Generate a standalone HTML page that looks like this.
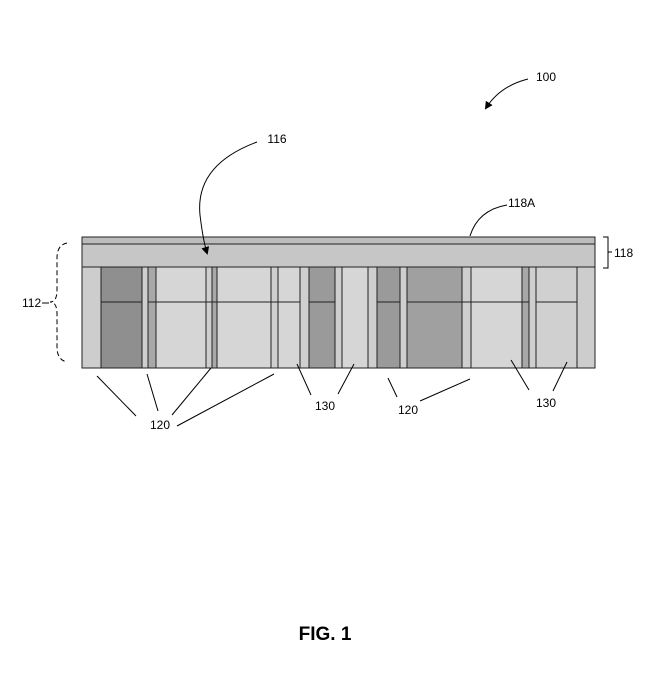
<!DOCTYPE html>
<html><head><meta charset="utf-8"><style>
html,body{margin:0;padding:0;background:#fff;}
svg{display:block;}
text{font-family:"Liberation Sans",Arial,sans-serif;font-size:12px;fill:#000;}
</style></head><body>
<svg width="648" height="699" viewBox="0 0 648 699" xmlns="http://www.w3.org/2000/svg">
<defs>
<marker id="ah" markerWidth="8" markerHeight="8" refX="6" refY="4" orient="auto" markerUnits="userSpaceOnUse">
<path d="M0,0 L8,4 L0,8 Z" fill="#000"/></marker>
</defs>
<g stroke="#222" stroke-width="1">
<!-- body background -->
<rect x="82" y="267" width="513" height="101" fill="#cdcdcd"/>
<!-- cells -->
<rect x="101" y="267" width="41" height="101" fill="#8f8f8f"/>
<rect x="148" y="267" width="8" height="101" fill="#a8a8a8"/>
<rect x="156" y="267" width="50" height="101" fill="#d6d6d6"/>
<rect x="212" y="267" width="5" height="101" fill="#a8a8a8"/>
<rect x="217" y="267" width="54" height="101" fill="#d6d6d6"/>
<rect x="278" y="267" width="22" height="101" fill="#d6d6d6"/>
<rect x="309" y="267" width="26" height="101" fill="#9a9a9a"/>
<rect x="342" y="267" width="26" height="101" fill="#d6d6d6"/>
<rect x="377" y="267" width="23" height="101" fill="#9a9a9a"/>
<rect x="407" y="267" width="55" height="101" fill="#a0a0a0"/>
<rect x="471" y="267" width="51" height="101" fill="#d6d6d6"/>
<rect x="522" y="267" width="7" height="101" fill="#a8a8a8"/>
<rect x="536" y="267" width="41" height="101" fill="#d0d0d0"/>
<!-- pillars -->
<rect x="142" y="267" width="6" height="101" fill="#cfcfcf"/>
<rect x="206" y="267" width="6" height="101" fill="#cfcfcf"/>
<rect x="271" y="267" width="7" height="101" fill="#cfcfcf"/>
<rect x="300" y="267" width="9" height="101" fill="#cfcfcf"/>
<rect x="335" y="267" width="7" height="101" fill="#cfcfcf"/>
<rect x="368" y="267" width="9" height="101" fill="#cfcfcf"/>
<rect x="400" y="267" width="7" height="101" fill="#cfcfcf"/>
<rect x="462" y="267" width="9" height="101" fill="#cfcfcf"/>
<rect x="529" y="267" width="7" height="101" fill="#cfcfcf"/>
<!-- mid horizontal lines -->
<line x1="101" y1="302" x2="142" y2="302"/>
<line x1="148" y1="302" x2="300" y2="302"/>
<line x1="309" y1="302" x2="335" y2="302"/>
<line x1="377" y1="302" x2="400" y2="302"/>
<line x1="407" y1="302" x2="529" y2="302"/>
<line x1="536" y1="302" x2="577" y2="302"/>
<!-- top layers -->
<rect x="82" y="244" width="513" height="23" fill="#c6c6c6"/>
<rect x="82" y="237" width="513" height="7" fill="#bcbcbc"/>
<rect x="82" y="237" width="513" height="131" fill="none"/>
</g>
<g stroke="#000" stroke-width="1" fill="none">
<!-- 100 arrow -->
<path d="M528,79 Q500,86 486,108" marker-end="url(#ah)"/>
<!-- 116 arrow -->
<path d="M257,142 Q195,165 200,215 Q203,240 207,253" marker-end="url(#ah)"/>
<!-- 118A -->
<path d="M507,205 Q478,210 470,236"/>
<!-- 118 brace -->
<path d="M603,237 L608,237 L608,268 L603,268 M608,252 L612,252"/>
<!-- 112 dashed brace -->
<path d="M67,243 Q57,245 57,258 L57,290 Q57,302 50,302 Q57,302 57,314 L57,347 Q57,360 67,362" stroke-dasharray="5,3"/>
<!-- 120 leaders -->
<line x1="97" y1="376" x2="136" y2="416"/>
<line x1="147" y1="374" x2="158" y2="411"/>
<line x1="211" y1="368" x2="172" y2="415"/>
<line x1="274" y1="374" x2="177" y2="426"/>
<line x1="388" y1="378" x2="397" y2="397"/>
<line x1="420" y1="401" x2="470" y2="379"/>
<!-- 130 leaders -->
<line x1="297" y1="364" x2="311" y2="395"/>
<line x1="354" y1="364" x2="338" y2="394"/>
<line x1="511" y1="360" x2="529" y2="390"/>
<line x1="567" y1="362" x2="553" y2="391"/>
</g>
<text x="546" y="81" text-anchor="middle">100</text>
<text x="277" y="143" text-anchor="middle">116</text>
<text x="508" y="207">118A</text>
<text x="614" y="257">118</text>
<text x="22" y="307">112</text>
<path d="M42,303 L49,303" stroke="#000"/>
<text x="160" y="429" text-anchor="middle">120</text>
<text x="408" y="414" text-anchor="middle">120</text>
<text x="325" y="410" text-anchor="middle">130</text>
<text x="546" y="407" text-anchor="middle">130</text>
<text x="325" y="640" text-anchor="middle" style="font-size:19px;font-weight:bold">FIG. 1</text>
</svg>
</body></html>
